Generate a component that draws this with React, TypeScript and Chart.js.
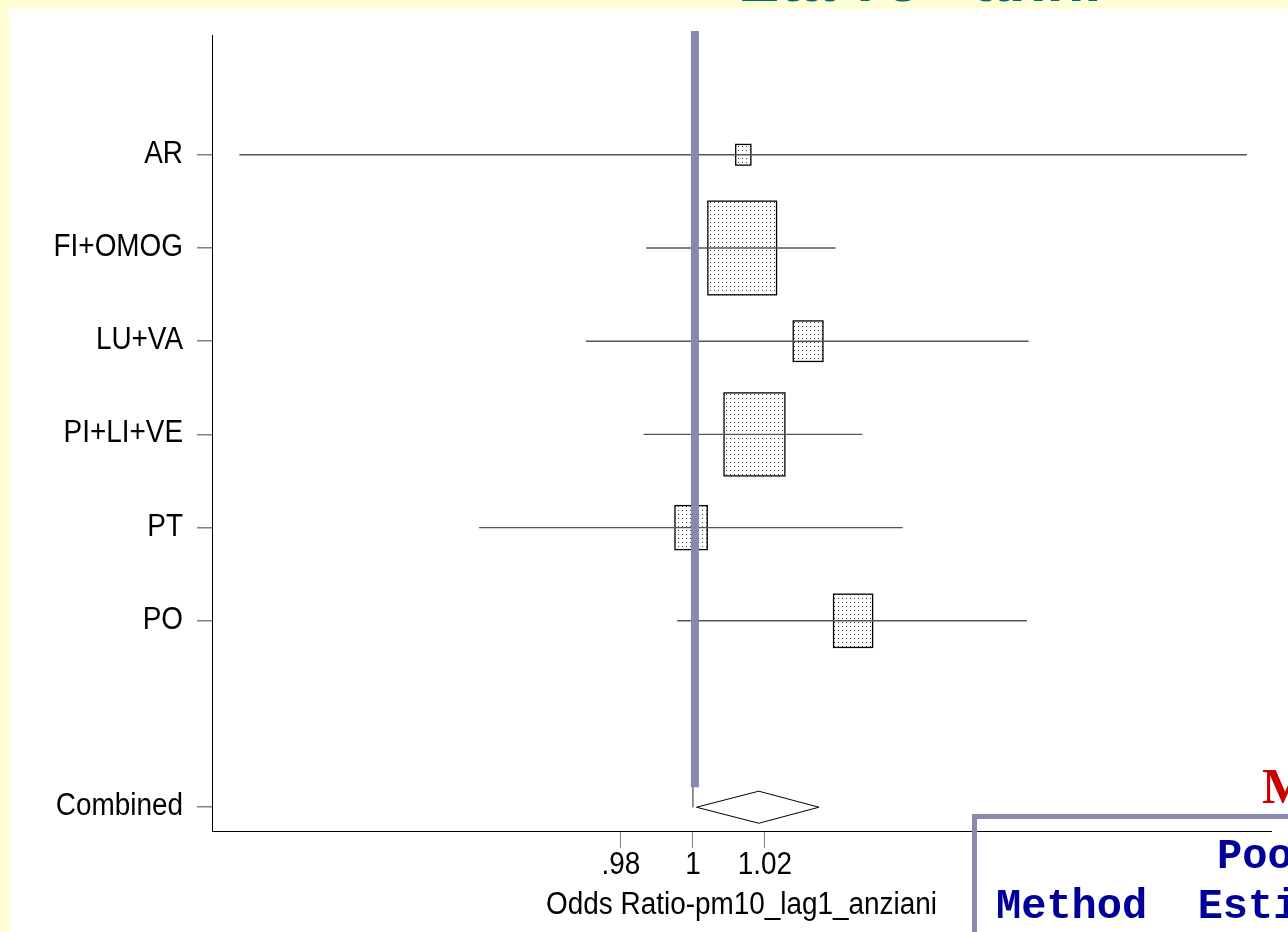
import React, { useEffect, useRef } from "react";
import { Chart, registerables } from "chart.js";

Chart.register(...registerables);

// ---- data ----
const STUDIES = ["AR", "FI+OMOG", "LU+VA", "PI+LI+VE", "PT", "PO"];
const OR_EST = [1.014, 1.0137, 1.032, 1.0171, 0.9995, 1.0445];
const CI_LOW = [0.874, 0.987, 0.9703, 0.9863, 0.9406, 0.9956];
const CI_HIGH = [1.1539, 1.0396, 1.0933, 1.0471, 1.0583, 1.0928];
const WEIGHTS = [1.9, 39.0, 7.3, 30.6, 8.6, 12.6];
const COMBINED_LABEL = "Combined";
const COMBINED_EST = 1.0183;
const COMBINED_LOW = 1.001;
const COMBINED_HIGH = 1.035;
const X_TICKS = [0.98, 1, 1.02];
const X_TICK_LABELS = [".98", "1", "1.02"];
const X_TITLE = "Odds Ratio-pm10_lag1_anziani";
const NULL_VALUE = 1;
const X_MIN = 0.8664;
const X_MAX = 1.1606;
const Y_MIN = -1.285;
const Y_MAX = 7.255;

const COMBINED_ROW = STUDIES.length + 1;
const ROW_LABELS = [...STUDIES, COMBINED_LABEL];
const ROW_POS = [...STUDIES.map((_, i) => i), COMBINED_ROW];

// style constants
const DIAMOND_HALF = 0.172;
const BOX_W_K = 11;
const BOX_H_K = 15;
const LABEL_FONT = '31px "Liberation Sans", Arial, sans-serif';
const SQUEEZE = 0.9;

function makePattern(ctx: CanvasRenderingContext2D) {
  const c = document.createElement("canvas");
  c.width = 4;
  c.height = 4;
  const p = c.getContext("2d")!;
  p.fillStyle = "rgba(0,0,0,0.75)";
  p.fillRect(1, 1, 1, 1);
  return ctx.createPattern(c, "repeat");
}

const forestPlugin = {
  id: "forest",
  beforeDatasetsDraw(chart: any) {
    const { ctx } = chart;
    const x = chart.scales.x;
    const y = chart.scales.y;
    const pattern = makePattern(ctx);
    STUDIES.forEach((_, i) => {
      const cx = x.getPixelForValue(OR_EST[i]);
      const cy = y.getPixelForValue(i);
      const s = Math.sqrt(WEIGHTS[i]);
      const w = s * BOX_W_K;
      const h = s * BOX_H_K;
      ctx.save();
      ctx.fillStyle = "#ffffff";
      ctx.fillRect(cx - w / 2, cy - h / 2, w, h);
      if (pattern) {
        ctx.fillStyle = pattern;
        ctx.fillRect(cx - w / 2, cy - h / 2, w, h);
      }
      ctx.strokeStyle = "#000";
      ctx.lineWidth = 1.3;
      ctx.strokeRect(cx - w / 2, cy - h / 2, w, h);
      ctx.restore();
    });
  },
  afterDatasetsDraw(chart: any) {
    const { ctx, chartArea } = chart;
    const x = chart.scales.x;
    const y = chart.scales.y;
    const px = x.getPixelForValue(NULL_VALUE) + 2;
    ctx.save();
    ctx.strokeStyle = "#8888B0";
    ctx.lineWidth = 8;
    ctx.lineCap = "butt";
    ctx.beginPath();
    ctx.moveTo(px, chartArea.top - 4);
    ctx.lineTo(px, y.getPixelForValue(COMBINED_ROW) - 20);
    ctx.stroke();
    ctx.restore();
  },
  afterDraw(chart: any) {
    const { ctx, chartArea } = chart;
    const x = chart.scales.x;
    const y = chart.scales.y;
    ctx.save();
    ctx.fillStyle = "#000";
    ctx.font = LABEL_FONT;
    ctx.textBaseline = "alphabetic";
    ctx.textAlign = "right";
    ROW_POS.forEach((p, k) => {
      const py = y.getPixelForValue(p);
      ctx.save();
      ctx.translate(chartArea.left - 29, py + 8);
      ctx.scale(SQUEEZE, 1);
      ctx.fillText(ROW_LABELS[k], 0, 0);
      ctx.restore();
    });
    ctx.textAlign = "center";
    X_TICKS.forEach((v, k) => {
      ctx.save();
      ctx.translate(x.getPixelForValue(v), chartArea.bottom + 43);
      ctx.scale(SQUEEZE, 1);
      ctx.fillText(X_TICK_LABELS[k], 0, 0);
      ctx.restore();
    });
    ctx.save();
    ctx.translate((chartArea.left + chartArea.right) / 2, chartArea.bottom + 83);
    ctx.scale(SQUEEZE, 1);
    ctx.fillText(X_TITLE, 0, 0);
    ctx.restore();
    ctx.restore();
  },
};

export default function App() {
  const ref = useRef<HTMLCanvasElement>(null);

  useEffect(() => {
    const diamond = [
      { x: COMBINED_LOW, y: COMBINED_ROW },
      { x: COMBINED_EST, y: COMBINED_ROW - DIAMOND_HALF },
      { x: COMBINED_HIGH, y: COMBINED_ROW },
      { x: COMBINED_EST, y: COMBINED_ROW + DIAMOND_HALF },
      { x: COMBINED_LOW, y: COMBINED_ROW },
    ];
    const datasets: any[] = [
      {
        label: "null",
        data: [
          { x: NULL_VALUE, y: Y_MIN },
          { x: NULL_VALUE, y: COMBINED_ROW },
        ],
        showLine: true,
        borderColor: "#808080",
        borderWidth: 1,
        pointRadius: 0,
      },
      ...STUDIES.map((s, i) => ({
        label: s,
        data: [
          { x: CI_LOW[i], y: i },
          { x: CI_HIGH[i], y: i },
        ],
        showLine: true,
        borderColor: "#555555",
        borderWidth: 1.4,
        pointRadius: 0,
      })),
      {
        label: COMBINED_LABEL,
        data: diamond,
        showLine: true,
        borderColor: "#000",
        borderWidth: 1,
        pointRadius: 0,
        tension: 0,
        fill: false,
      },
    ];

    const chart = new Chart(ref.current!, {
      type: "scatter",
      data: { datasets },
      options: {
        animation: false,
        responsive: false,
        devicePixelRatio: 1,
        layout: { padding: { top: 26, right: 17, left: 0, bottom: 0 } },
        plugins: { legend: { display: false }, tooltip: { enabled: false } },
        events: [],
        scales: {
          x: {
            type: "linear",
            min: X_MIN,
            max: X_MAX,
            afterBuildTicks: (scale: any) => {
              scale.ticks = X_TICKS.map((v) => ({ value: v }));
            },
            afterFit: (scale: any) => {
              scale.height = 101;
            },
            ticks: { display: false },
            grid: {
              display: true,
              drawOnChartArea: false,
              drawTicks: true,
              tickLength: 17,
              color: "#808080",
              lineWidth: 1,
            },
            border: { display: true, color: "#000", width: 1 },
          },
          y: {
            type: "linear",
            reverse: true,
            min: Y_MIN,
            max: Y_MAX,
            afterBuildTicks: (scale: any) => {
              scale.ticks = ROW_POS.map((v) => ({ value: v }));
            },
            afterFit: (scale: any) => {
              scale.width = 203;
            },
            ticks: { display: false },
            grid: {
              display: true,
              drawOnChartArea: false,
              drawTicks: true,
              tickLength: 15,
              color: "#808080",
              lineWidth: 1.5,
            },
            border: { display: true, color: "#000", width: 1 },
          },
        },
      },
      plugins: [forestPlugin],
    } as any);
    return () => chart.destroy();
  }, []);

  return (
    <div
      style={{
        position: "fixed",
        left: 0,
        top: 0,
        width: 1288,
        height: 932,
        background: "#FFFFD6",
        overflow: "hidden",
      }}
    >
      <div
        style={{
          position: "absolute",
          left: 738,
          top: -51,
          font: 'bold 62px "Liberation Sans", Arial, sans-serif',
          lineHeight: "62px",
          color: "#006B6B",
          whiteSpace: "nowrap",
        }}
      >
        Età 75+ anni
      </div>
      <div
        style={{
          position: "absolute",
          left: 9,
          top: 9,
          width: 1279,
          height: 923,
          background: "#ffffff",
        }}
      >
        <canvas ref={ref} width={1279} height={923} style={{ display: "block" }} />
      </div>
      <div
        style={{
          position: "absolute",
          left: 972,
          top: 814,
          width: 500,
          height: 300,
          border: "5px solid #8888B0",
          boxSizing: "border-box",
        }}
      />
      <div
        style={{
          position: "absolute",
          left: 1262,
          top: 761,
          font: 'bold 50px "Liberation Serif", "Times New Roman", serif',
          lineHeight: "50px",
          color: "#CC0000",
          whiteSpace: "nowrap",
        }}
      >
        Meta-analisi
      </div>
      <div
        style={{
          position: "absolute",
          left: 1217,
          top: 836,
          font: 'bold 42px "Liberation Mono", "Courier New", monospace',
          lineHeight: "42px",
          color: "#000099",
          whiteSpace: "pre",
        }}
      >
        Pooled
      </div>
      <div
        style={{
          position: "absolute",
          left: 996,
          top: 886,
          font: 'bold 42px "Liberation Mono", "Courier New", monospace',
          lineHeight: "42px",
          color: "#000099",
          whiteSpace: "pre",
        }}
      >
        Method  Estimate
      </div>
    </div>
  );
}
